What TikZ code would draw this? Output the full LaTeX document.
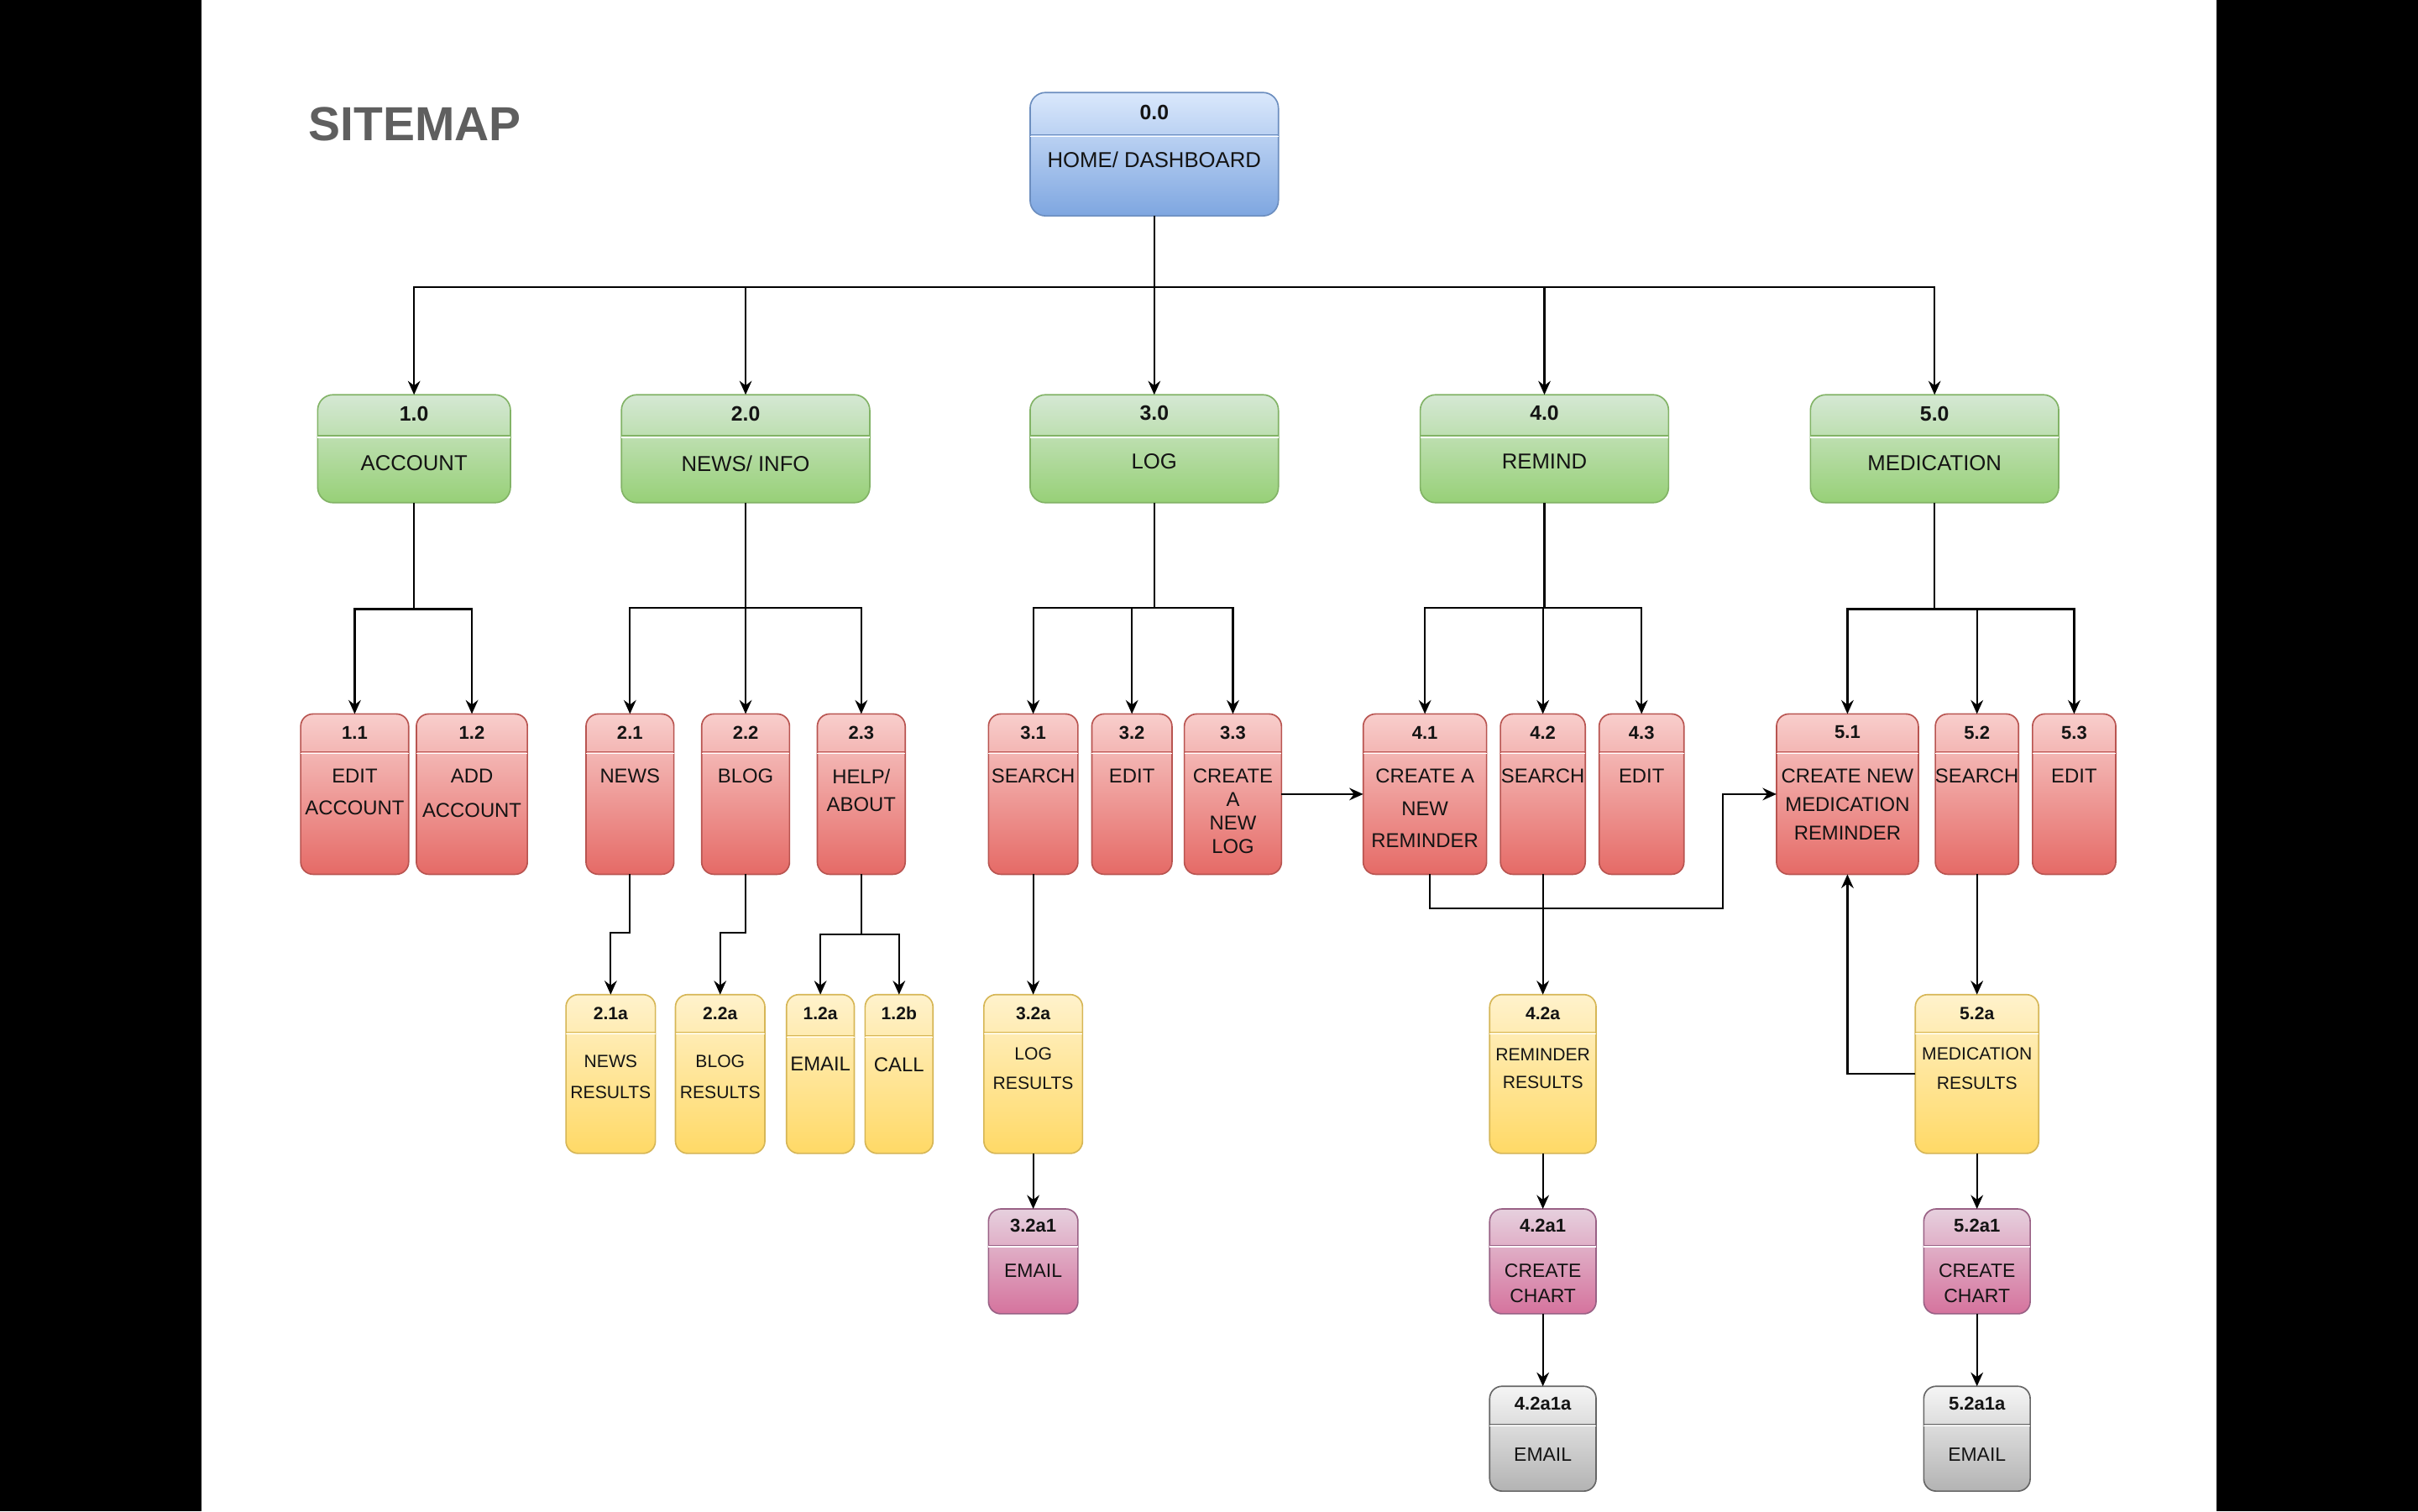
\documentclass[tikz,border=0pt]{standalone}
\usepackage{fontspec}
\setmainfont{Liberation Sans}
\usetikzlibrary{arrows.meta,calc}
\definecolor{tBlue}{HTML}{DAE8FC}\definecolor{bBlue}{HTML}{7EA6E0}\definecolor{sBlue}{HTML}{6C8EBF}
\definecolor{tGreen}{HTML}{D5E8D4}\definecolor{bGreen}{HTML}{97D077}\definecolor{sGreen}{HTML}{82B366}
\definecolor{tRed}{HTML}{F8CECC}\definecolor{bRed}{HTML}{E56A66}\definecolor{sRed}{HTML}{B85450}
\definecolor{tYel}{HTML}{FFF2CC}\definecolor{bYel}{HTML}{FFD966}\definecolor{sYel}{HTML}{D6B656}
\definecolor{tPur}{HTML}{E6D0DE}\definecolor{bPur}{HTML}{D5739D}\definecolor{sPur}{HTML}{996185}
\definecolor{tGray}{HTML}{F5F5F5}\definecolor{bGray}{HTML}{B3B3B3}\definecolor{sGray}{HTML}{666666}
\definecolor{txt}{HTML}{141414}
\definecolor{sitegray}{HTML}{5F5F5F}
\newcommand\fs[2]{\fontsize{#1}{#2}\selectfont}
\tikzset{
  bx/.style={draw=#1, line width=0.9pt, rounded corners=8pt, inner sep=0pt, outer sep=0pt},
  blueb/.style={bx=sBlue, top color=tBlue, bottom color=bBlue, rounded corners=10pt},
  greenb/.style={bx=sGreen, top color=tGreen, bottom color=bGreen, rounded corners=10pt},
  redb/.style={bx=sRed, top color=tRed, bottom color=bRed},
  yelb/.style={bx=sYel, top color=tYel, bottom color=bYel},
  purb/.style={bx=sPur, top color=tPur, bottom color=bPur},
  grayb/.style={bx=sGray, top color=tGray, bottom color=bGray},
  hd/.style={inner sep=0pt, text=txt, font=\bfseries\fs{#1}{#1}},
  bd/.style={inner sep=0pt, align=center, text=txt, anchor=north},
  ln/.style={draw=black, line width=1.2pt},
  conn/.style={ln, -{Stealth[length=9pt,width=8pt,inset=3pt]}},
}
% name, style, x1, x2, y1, ydiv, y2, divider colour
\newcommand\mkbox[8]{%
  \pgfmathsetmacro\bw{#4-#3}\pgfmathsetmacro\bh{#7-#5}%
  \node[#2, minimum width=\bw pt, minimum height=\bh pt, anchor=north west] (#1) at (#3,#5) {};
  \draw[#8, line width=0.7pt] (#3,#6-0.5) -- (#4,#6-0.5);
  \draw[white, line width=0.8pt] (#3,#6+0.6) -- (#4,#6+0.6);
}
\begin{document}
\begin{tikzpicture}[x=1pt,y=-1pt]
\useasboundingbox (0,0) rectangle (1568,980);
\fill[black] (0,0) rectangle (1568,980);
\fill[white] (130.7,0) rectangle (1437.3,980);

\node[font=\bfseries\fs{31}{31}, text=sitegray, anchor=west, inner sep=0pt] (title) at (200,80.5) {SITEMAP};

% level 0
\mkbox{n00}{blueb}{668}{829}{60}{88}{140}{sBlue}
\node[hd=13.5] (n00h) at (748.5,73) {0.0};
\node[bd, font=\fs{14}{18}, yshift=4.8pt] (n00b) at (748.5,103) {HOME/ DASHBOARD};

% level 1
\mkbox{n10}{greenb}{206}{331}{256}{283}{326}{sGreen}
\mkbox{n20}{greenb}{403}{564}{256}{283}{326}{sGreen}
\mkbox{n30}{greenb}{668}{829}{256}{283}{326}{sGreen}
\mkbox{n40}{greenb}{921}{1082}{256}{283}{326}{sGreen}
\mkbox{n50}{greenb}{1174}{1335}{256}{283}{326}{sGreen}
\node[hd=13.5] (n10h) at (268.5,268.5) {1.0};
\node[hd=13.5] (n20h) at (483.5,268.5) {2.0};
\node[hd=13.5] (n30h) at (748.5,268) {3.0};
\node[hd=13.5] (n40h) at (1001.5,268) {4.0};
\node[hd=13.5] (n50h) at (1254.5,268.5) {5.0};
\node[bd, font=\fs{14}{18}, yshift=4.8pt] (n10b) at (268.5,300) {ACCOUNT};
\node[bd, font=\fs{14}{18}, yshift=4.8pt] (n20b) at (483.5,300) {NEWS/ INFO};
\node[bd, font=\fs{14}{18}, yshift=4.8pt] (n30b) at (748.5,299) {LOG};
\node[bd, font=\fs{14}{18}, yshift=4.8pt] (n40b) at (1001.5,299) {REMIND};
\node[bd, font=\fs{14}{18}, yshift=4.8pt] (n50b) at (1254.5,300) {MEDICATION};

% level 2
\mkbox{n11}{redb}{195}{265}{463}{488}{567}{sRed}
\mkbox{n12}{redb}{270}{342}{463}{488}{567}{sRed}
\mkbox{n21}{redb}{380}{437}{463}{488}{567}{sRed}
\mkbox{n22}{redb}{455}{512}{463}{488}{567}{sRed}
\mkbox{n23}{redb}{530}{587}{463}{488}{567}{sRed}
\mkbox{n31}{redb}{641}{699}{463}{488}{567}{sRed}
\mkbox{n32}{redb}{708}{760}{463}{488}{567}{sRed}
\mkbox{n33}{redb}{768}{831}{463}{488}{567}{sRed}
\mkbox{n41}{redb}{884}{964}{463}{488}{567}{sRed}
\mkbox{n42}{redb}{973}{1028}{463}{488}{567}{sRed}
\mkbox{n43}{redb}{1037}{1092}{463}{488}{567}{sRed}
\mkbox{n51}{redb}{1152}{1244}{463}{488}{567}{sRed}
\mkbox{n52}{redb}{1255}{1309}{463}{488}{567}{sRed}
\mkbox{n53}{redb}{1318}{1372}{463}{488}{567}{sRed}
\node[hd=12] (n11h) at (230,475) {1.1};
\node[hd=12] (n12h) at (306,475) {1.2};
\node[hd=12] (n21h) at (408.5,475) {2.1};
\node[hd=12] (n22h) at (483.5,475) {2.2};
\node[hd=12] (n23h) at (558.5,475) {2.3};
\node[hd=12] (n31h) at (670,475) {3.1};
\node[hd=12] (n32h) at (734,475) {3.2};
\node[hd=12] (n33h) at (799.5,475) {3.3};
\node[hd=12] (n41h) at (924,475) {4.1};
\node[hd=12] (n42h) at (1000.5,475) {4.2};
\node[hd=12] (n43h) at (1064.5,475) {4.3};
\node[hd=12] (n51h) at (1198,475) {5.1};
\node[hd=12] (n52h) at (1282,475) {5.2};
\node[hd=12] (n53h) at (1345,475) {5.3};
\node[bd, font=\fs{13}{21}, yshift=4.5pt] (n11b) at (230,503) {EDIT\\ACCOUNT};
\node[bd, font=\fs{13}{22.5}, yshift=4.5pt] (n12b) at (306,503) {ADD\\ACCOUNT};
\node[bd, font=\fs{13}{21}, yshift=4.5pt] (n21b) at (408.5,503) {NEWS};
\node[bd, font=\fs{13}{21}, yshift=4.5pt] (n22b) at (483.5,503) {BLOG};
\node[bd, font=\fs{13}{18}, yshift=4.5pt] (n23b) at (558.5,503) {HELP/\\ABOUT};
\node[bd, font=\fs{13}{21}, yshift=4.5pt] (n31b) at (670,503) {SEARCH};
\node[bd, font=\fs{13}{21}, yshift=4.5pt] (n32b) at (734,503) {EDIT};
\node[bd, font=\fs{13}{15.3}, yshift=4.5pt] (n33b) at (799.5,503) {CREATE\\A\\NEW\\LOG};
\node[bd, font=\fs{13}{21}, yshift=4.5pt] (n41b) at (924,503) {CREATE A\\NEW\\REMINDER};
\node[bd, font=\fs{13}{21}, yshift=4.5pt] (n42b) at (1000.5,503) {SEARCH};
\node[bd, font=\fs{13}{21}, yshift=4.5pt] (n43b) at (1064.5,503) {EDIT};
\node[bd, font=\fs{13}{18.5}, yshift=4.5pt] (n51b) at (1198,503) {CREATE NEW\\MEDICATION\\REMINDER};
\node[bd, font=\fs{13}{21}, yshift=4.5pt] (n52b) at (1282,503) {SEARCH};
\node[bd, font=\fs{13}{21}, yshift=4.5pt] (n53b) at (1345,503) {EDIT};

% level 3
\mkbox{n21a}{yelb}{367}{425}{645}{670}{748}{sYel}
\mkbox{n22a}{yelb}{438}{496}{645}{670}{748}{sYel}
\mkbox{n12a}{yelb}{510}{554}{645}{672}{748}{sYel}
\mkbox{n12b}{yelb}{561}{605}{645}{672}{748}{sYel}
\mkbox{n32a}{yelb}{638}{702}{645}{670}{748}{sYel}
\mkbox{n42a}{yelb}{966}{1035}{645}{670}{748}{sYel}
\mkbox{n52a}{yelb}{1242}{1322}{645}{670}{748}{sYel}
\node[hd=11.5] (n21ah) at (396,657) {2.1a};
\node[hd=11.5] (n22ah) at (467,657) {2.2a};
\node[hd=11.5] (n12ah) at (532,657) {1.2a};
\node[hd=11.5] (n12bh) at (583,657) {1.2b};
\node[hd=11.5] (n32ah) at (670,657) {3.2a};
\node[hd=11.5] (n42ah) at (1000.5,657) {4.2a};
\node[hd=11.5] (n52ah) at (1282,657) {5.2a};
\node[bd, font=\fs{11.5}{20}, yshift=4pt] (n21ab) at (396,688) {NEWS\\RESULTS};
\node[bd, font=\fs{11.5}{20}, yshift=4pt] (n22ab) at (467,688) {BLOG\\RESULTS};
\node[bd, font=\fs{13}{20}, yshift=4.5pt] (n12ab) at (532,690) {EMAIL};
\node[bd, font=\fs{13}{20}, yshift=4.5pt] (n12bb) at (583,690) {CALL};
\node[bd, font=\fs{11.5}{19}, yshift=4pt] (n32ab) at (670,683) {LOG\\RESULTS};
\node[bd, font=\fs{11.5}{18}, yshift=4pt] (n42ab) at (1000.5,684) {REMINDER\\RESULTS};
\node[bd, font=\fs{11.5}{19}, yshift=4pt] (n52ab) at (1282,683) {MEDICATION\\RESULTS};

% level 4
\mkbox{n32a1}{purb}{641}{699}{784}{808}{852}{sPur}
\mkbox{n42a1}{purb}{966}{1035}{784}{808}{852}{sPur}
\mkbox{n52a1}{purb}{1247.5}{1316.5}{784}{808}{852}{sPur}
\node[hd=12] (n32a1h) at (670,795) {3.2a1};
\node[hd=12] (n42a1h) at (1000.5,795) {4.2a1};
\node[hd=12] (n52a1h) at (1282,795) {5.2a1};
\node[bd, font=\fs{12.5}{16}, yshift=4.3pt] (n32a1b) at (670,824) {EMAIL};
\node[bd, font=\fs{12.5}{16}, yshift=4.3pt] (n42a1b) at (1000.5,824) {CREATE\\CHART};
\node[bd, font=\fs{12.5}{16}, yshift=4.3pt] (n52a1b) at (1282,824) {CREATE\\CHART};

% level 5
\mkbox{n42a1a}{grayb}{966}{1035}{899}{924}{967}{sGray}
\mkbox{n52a1a}{grayb}{1247.5}{1316.5}{899}{924}{967}{sGray}
\node[hd=12] (n42a1ah) at (1000.5,910) {4.2a1a};
\node[hd=12] (n52a1ah) at (1282,910) {5.2a1a};
\node[bd, font=\fs{12.5}{16}, yshift=4.3pt] (n42a1ab) at (1000.5,943) {EMAIL};
\node[bd, font=\fs{12.5}{16}, yshift=4.3pt] (n52a1ab) at (1282,943) {EMAIL};

% connectors: level 0 -> 1
\coordinate (tb) at (748.5,186);
\draw[conn] (n00.south) -- (n30.north);
\foreach \n in {n10,n20,n40,n50} \draw[conn] (tb) -| (\n.north);

% level 1 -> 2
\coordinate (b1) at (268.5,395);
\coordinate (b2) at (483.5,394);
\coordinate (b3) at (748.5,394);
\coordinate (b4) at (1001.5,394);
\coordinate (b5) at (1254.5,395);
\draw[ln] (n10.south) -- (b1);
\draw[ln] (n20.south) -- (b2);
\draw[ln] (n30.south) -- (b3);
\draw[ln] (n40.south) -- (b4);
\draw[ln] (n50.south) -- (b5);
\foreach \n in {n11,n12} \draw[conn] (b1) -| (\n.north);
\foreach \n in {n21,n22,n23} \draw[conn] (b2) -| (\n.north);
\foreach \n in {n31,n32,n33} \draw[conn] (b3) -| (\n.north);
\foreach \n in {n41,n42,n43} \draw[conn] (b4) -| (\n.north);
\foreach \n in {n51,n52,n53} \draw[conn] (b5) -| (\n.north);

% level 2 -> 3
\draw[conn] (n21.south) -- ++(0,38) -| (n21a.north);
\draw[conn] (n22.south) -- ++(0,38) -| (n22a.north);
\coordinate (b23) at (558.5,606);
\draw[ln] (n23.south) -- (b23);
\draw[conn] (b23) -| (n12a.north);
\draw[conn] (b23) -| (n12b.north);
\draw[conn] (n31.south) -- (n32a.north);
\draw[conn] (n32a.south) -- (n32a1.north);
\draw[conn] (n33.east) -- (n41.west);
\coordinate (c41) at (1117,589);
\draw[conn] ([xshift=3pt]n41.south) |- (c41) |- (n51.west);
\draw[conn] (n42.south) -- (n42a.north);
\draw[conn] (n42a.south) -- (n42a1.north);
\draw[conn] (n42a1.south) -- (n42a1a.north);
\draw[conn] (n52.south) -- (n52a.north);
\draw[conn] (n52a.west) -| (n51.south);
\draw[conn] (n52a.south) -- (n52a1.north);
\draw[conn] (n52a1.south) -- (n52a1a.north);
\end{tikzpicture}
\end{document}
